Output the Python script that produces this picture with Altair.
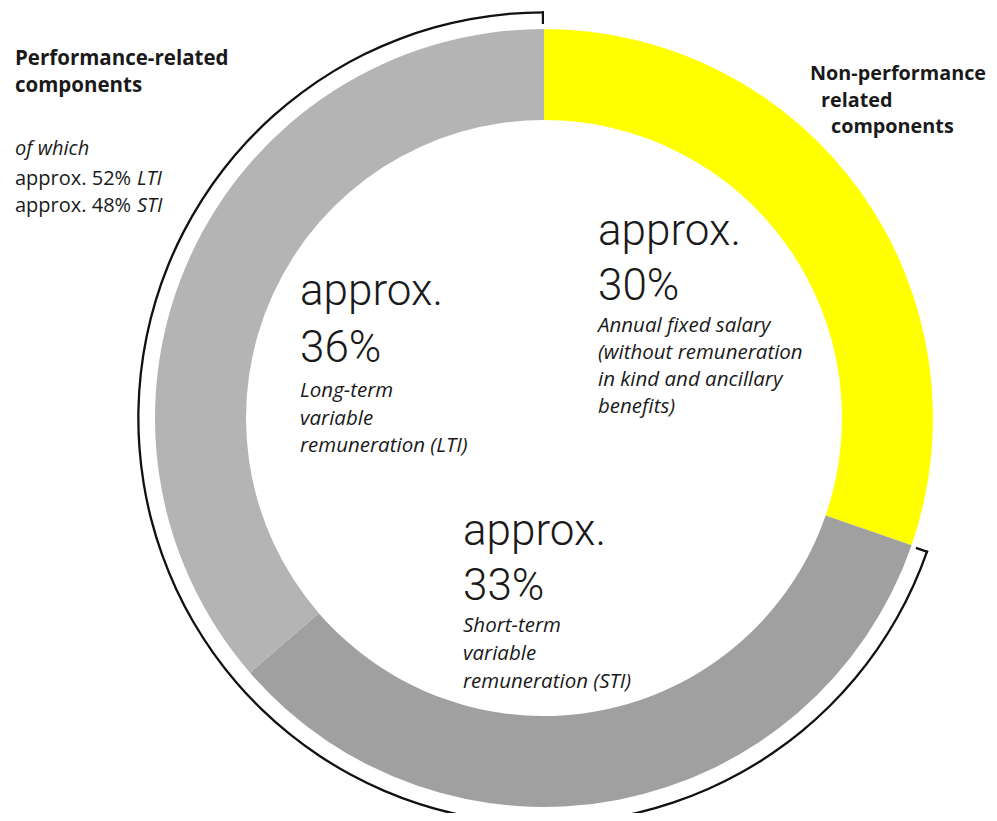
import math
import altair as alt
import pandas as pd

# ---- data ----
components = ["Annual fixed salary", "Short-term variable remuneration (STI)",
              "Long-term variable remuneration (LTI)"]
shares = [30, 33, 36]
colors = ["#FFFF00", "#A0A0A0", "#B4B4B4"]

big_prefix = "approx."
big_values = ["30%", "33%", "36%"]
desc_fixed = ["Annual fixed salary", "(without remuneration", "in kind and ancillary", "benefits)"]
desc_sti = ["Short-term", "variable", "remuneration (STI)"]
desc_lti = ["Long-term", "variable", "remuneration (LTI)"]
perf_title = ["Performance-related", "components"]
perf_sub = "of which"
perf_split = [("approx. 52%", "LTI"), ("approx. 48%", "STI")]
nonperf_title = ["Non-performance", "related", "components"]

# ---- layout ----
OFF = 8
CX, CY = 544 - OFF, 418 - OFF
BIGFONT = "Roboto"
FONT = "Open Sans"
INK = "#1a1a1a"

df = pd.DataFrame({"component": components, "share": shares, "order": [0, 1, 2]})

donut = alt.Chart(df).mark_arc(innerRadius=298, outerRadius=389, strokeWidth=0).encode(
    theta=alt.Theta("share:Q", stack=True),
    order=alt.Order("order:Q"),
    color=alt.Color("component:N", scale=alt.Scale(domain=components, range=colors), legend=None),
    x=alt.value(CX), y=alt.value(CY),
)

total = sum(shares)
start = shares[0] / total * 2 * math.pi
end = 2 * math.pi
bracket_df = pd.DataFrame({"t0": [start], "t1": [end]})
bracket = alt.Chart(bracket_df).mark_arc(innerRadius=404.5, outerRadius=406.8, color="#111111").encode(
    theta=alt.Theta("t0:Q", scale=None), theta2="t1:Q", x=alt.value(CX), y=alt.value(CY))
tw = 0.0055
ticks_df = pd.DataFrame({"t0": [start, end - tw], "t1": [start + tw, end]})
ticks = alt.Chart(ticks_df).mark_arc(innerRadius=394, outerRadius=406.8, color="#111111").encode(
    theta=alt.Theta("t0:Q", scale=None), theta2="t1:Q", x=alt.value(CX), y=alt.value(CY))

one = pd.DataFrame({"k": [0]})


def label(text, x, y, size, weight="normal", style="normal", font=FONT):
    return alt.Chart(one).mark_text(
        text=text, font=font, fontSize=size, fontWeight=weight, fontStyle=style,
        align="left", baseline="alphabetic", color=INK,
    ).encode(x=alt.value(x - OFF), y=alt.value(y - OFF))


layers = [donut, bracket, ticks]

BIG = 44
BIGW = 300
DESC = 20.5
DESCW = 400
# fixed salary block
layers.append(label(big_prefix, 598, 245, BIG, BIGW, font=BIGFONT))
layers.append(label(big_values[0], 598, 300, BIG, BIGW, font=BIGFONT))
for i, t in enumerate(desc_fixed):
    layers.append(label(t, 598, 332 + 27 * i, DESC, DESCW, "italic"))
# LTI block
layers.append(label(big_prefix, 300, 305, BIG, BIGW, font=BIGFONT))
layers.append(label(big_values[2], 300, 362, BIG, BIGW, font=BIGFONT))
for i, t in enumerate(desc_lti):
    layers.append(label(t, 300, 397 + 27.5 * i, DESC, DESCW, "italic"))
# STI block
layers.append(label(big_prefix, 463, 545, BIG, BIGW, font=BIGFONT))
layers.append(label(big_values[1], 463, 600, BIG, BIGW, font=BIGFONT))
for i, t in enumerate(desc_sti):
    layers.append(label(t, 463, 632 + 28 * i, DESC, DESCW, "italic"))

# top-left annotation
for i, t in enumerate(perf_title):
    layers.append(label(t, 15, 65 + 27 * i, 20.5, "bold"))
layers.append(label(perf_sub, 15, 155, 20, 400, "italic"))
for i, (a, b) in enumerate(perf_split):
    layers.append(label(a, 15, 185 + 27 * i, 20, 400))
    layers.append(label(b, 137, 185 + 27 * i, 20, 400, "italic"))

# top-right annotation
nx = [810, 821, 831]
for i, t in enumerate(nonperf_title):
    layers.append(label(t, nx[i], 80 + 26.5 * i, 19.8, "bold"))

chart = alt.layer(*layers).properties(
    width=981, height=805, autosize=alt.AutoSizeParams(type="none"), padding=0,
    background="white",
).configure_view(stroke=None, strokeWidth=0)

chart.save("out.html", embed_options={"renderer": "svg", "actions": False})
